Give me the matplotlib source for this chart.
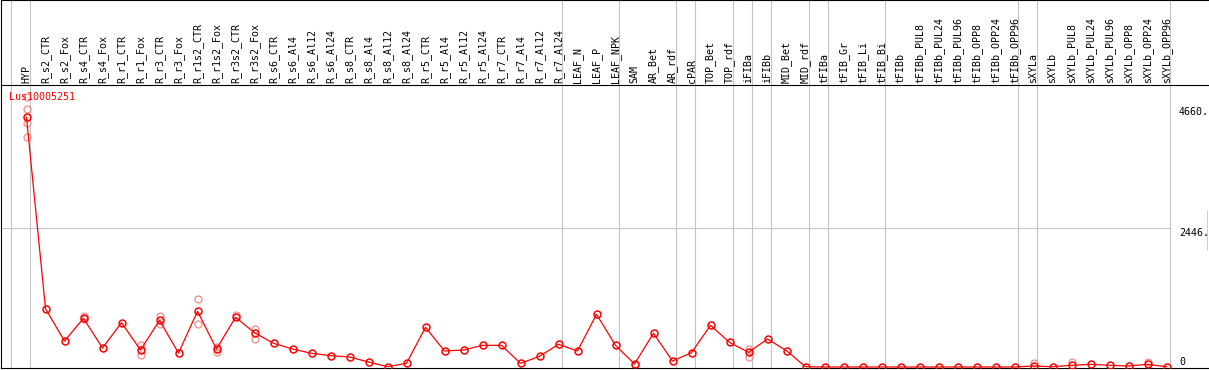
import matplotlib
matplotlib.use("Agg")
import matplotlib.pyplot as plt
import matplotlib.transforms as mtransforms

# categories (x axis, shown rotated in the header)
samples = ["HYP",
           "R_s2_CTR", "R_s2_Fox", "R_s4_CTR", "R_s4_Fox", "R_r1_CTR", "R_r1_Fox",
           "R_r3_CTR", "R_r3_Fox", "R_r1s2_CTR", "R_r1s2_Fox", "R_r3s2_CTR", "R_r3s2_Fox",
           "R_s6_CTR", "R_s6_Al4", "R_s6_Al12", "R_s6_Al24", "R_s8_CTR", "R_s8_Al4",
           "R_s8_Al12", "R_s8_Al24", "R_r5_CTR", "R_r5_Al4", "R_r5_Al12", "R_r5_Al24",
           "R_r7_CTR", "R_r7_Al4", "R_r7_Al12", "R_r7_Al24",
           "LEAF_N", "LEAF_P", "LEAF_NPK",
           "SAM", "AR_Bet", "AR_rdf",
           "cPAR",
           "TOP_Bet", "TOP_rdf",
           "iFIBa",
           "iFIBb",
           "MID_Bet", "MID_rdf",
           "tFIBa",
           "tFIB_Gr", "tFIB_Li", "tFIB_Bi",
           "tFIBb", "tFIBb_PUL8", "tFIBb_PUL24", "tFIBb_PUL96", "tFIBb_OPP8",
           "tFIBb_OPP24", "tFIBb_OPP96",
           "sXYLa",
           "sXYLb", "sXYLb_PUL8", "sXYLb_PUL24", "sXYLb_PUL96", "sXYLb_OPP8",
           "sXYLb_OPP24", "sXYLb_OPP96"]

# number of samples in each tissue group (separated by grey lines)
group_sizes = [1, 28, 3, 3, 1, 2, 1, 1, 2, 1, 3, 7, 1, 7]

# mean expression per sample
means = [4394,
         1026, 457, 857, 334, 780, 299, 821, 246, 980, 317, 874, 604,
         417, 317, 241, 200, 176, 88, 5, 65, 698, 282, 299, 381,
         381, 65, 188, 399,
         282, 927, 381,
         53, 593, 106,
         252,
         733, 434,
         258,
         493,
         287, 5,
         0,
         0, 0, 0,
         0, 0, 0, 0, 0, 0, 0,
         18,
         5, 30, 47, 30, 18, 47, 5]

# single replicates that stand apart from the mean
rep_idx = [0, 0, 0, 0, 3, 3, 6, 6, 7, 7, 9, 9, 10, 10, 11, 12, 12,
           32, 38, 38, 53, 55, 59]
rep_val = [4756, 4540, 4299, 4042, 903, 845, 387, 206, 892, 757, 1191, 751, 357, 269,
           915, 674, 487, 30, 317, 176, 65, 83, 83]

gene = "Lus10005251"
yticks = [4660, 2446, 0]
ytick_labels = ["4660.", "2446.", "0"]

W, H = 1209, 370
x0, dx = 26.5, 19.0          # pixel of first sample, pixel step
y0, k = 367.0, 0.05683       # pixel of zero, pixels per unit

fig = plt.figure(figsize=(W / 100, H / 100), dpi=100)
ax = fig.add_axes([1 / W, (H - 368) / H, 1207 / W, 283 / H])
axh = fig.add_axes([1 / W, (H - 85) / H, 1207 / W, 85 / H], sharex=ax)

xmin, xmax = (1 - x0) / dx, (1208 - x0) / dx
ax.set_xlim(xmin, xmax)
ax.set_ylim((y0 - 368) / k, (y0 - 85) / k)
axh.set_ylim(0, 1)

for a in (ax, axh):
    a.set_xticks([])
    a.set_yticks([])
    a.patch.set_alpha(0)
    for s in a.spines.values():
        s.set_linewidth(0.8)
        s.set_color("black")
    a.spines["right"].set_visible(False)
axh.spines["bottom"].set_visible(False)

# group separators
bounds = [-1]
for g in group_sizes:
    bounds.append(bounds[-1] + g)
for b in bounds:
    for a in (ax, axh):
        a.axvline(b + 0.19, color="#c4c4c4", lw=0.8, zorder=0)

ax.hlines(2446, xmin, bounds[-1] + 0.19, color="#c4c4c4", lw=0.8, zorder=0)
ax.vlines((1207.5 - x0) / dx, (y0 - 250) / k, (y0 - 210) / k, color="black", lw=1.0)

font = dict(family="DejaVu Sans Mono", fontsize=7.2)
for i, name in enumerate(samples):
    axh.text(i, 2 / 85, name, rotation=90, ha="center", va="bottom", **font)

x = list(range(len(samples)))
ax.plot(rep_idx, rep_val, "o", ms=5, mfc="none", mec="#f08a8a", mew=0.9, zorder=2)
ax.plot(x, means, "-", color="red", lw=0.9, zorder=3)
ax.plot(x, means, "o", ms=5, mfc="none", mec="red", mew=1.1, zorder=4)

ax.text(8 / 1207, (368 - 97) / 283, gene, color="red", ha="left", va="center",
        transform=ax.transAxes, **font)

offsets = [-10, -5, 5]
for v, lab, off in zip(yticks, ytick_labels, offsets):
    tr = mtransforms.offset_copy(ax.transData, fig=fig, x=0, y=off, units="dots")
    ax.text((1179 - x0) / dx, v, lab, ha="left", va="center", transform=tr, **font)

fig.savefig("out.png", dpi=100)
